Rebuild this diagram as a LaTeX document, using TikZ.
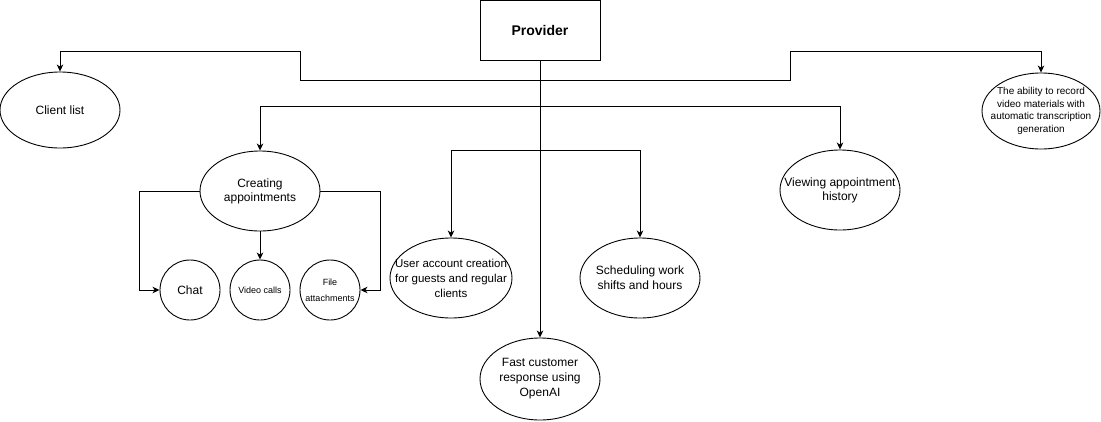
\documentclass[tikz,border=0pt]{standalone}
\usepackage{fontspec}
\setmainfont{Liberation Sans}
\usetikzlibrary{shapes.geometric,arrows.meta}
\begin{document}
\begin{tikzpicture}[x={(1pt,0)},y={(0,-1pt)},
  line width=0.9pt,
  ell/.style={draw,ellipse,inner sep=0pt,minimum width=120pt,minimum height=80pt},
  circ/.style={draw,circle,inner sep=0pt,minimum size=60pt},
  lbl/.style={align=center,inner sep=0pt,font=\fontsize{12}{14}\selectfont},
  arr/.style={-{Stealth[length=7pt,width=6.5pt,inset=2pt]}},
  box/.style={draw,rectangle,inner sep=0pt,minimum width=120pt,minimum height=60pt,font=\bfseries\fontsize{14}{16}\selectfont}
]
\useasboundingbox (0,0) rectangle (1101,421);
% nodes
\node[box] (prov) at (540,30) {Provider};
\node[ell,minimum height=76pt,label={[lbl]center:Client list}] (client) at (60,110) {};
\node[ell,minimum width=118pt,minimum height=76pt,label={[lbl,font=\fontsize{10}{12.5}\selectfont]center:The ability to record\\video materials with\\automatic transcription\\generation}] (rec) at (1041,111) {};
\node[ell,label={[lbl]center:Creating\\appointments}] (creat) at (260,191) {};
\node[ell,label={[lbl]center:Viewing appointment\\history}] (view) at (840,190) {};
\node[ell,minimum width=122pt,label={[lbl,font=\fontsize{11.5}{15}\selectfont]center:User account creation\\for guests and regular\\clients}] (user) at (451,278) {};
\node[ell,label={[lbl,font=\fontsize{12}{15}\selectfont]center:Scheduling work\\shifts and hours}] (sched) at (640,278) {};
\node[ell,minimum height=82pt,label={[lbl,font=\fontsize{12}{15}\selectfont]center:Fast customer\\response using\\OpenAI}] (fast) at (540,379) {};
\node[circ,label={[lbl]center:Chat}] (chat) at (190,290) {};
\node[circ,label={[lbl,font=\fontsize{9}{11}\selectfont]center:Video calls}] (video) at (260,290) {};
\node[circ,label={[lbl,font=\fontsize{9}{16}\selectfont]center:File\\attachments}] (file) at (330,290) {};
% connectors
\draw[arr] (prov.south) |- (300,80) |- (client.north |- 0,51) -- (client.north);
\draw[arr] (prov.south) |- (790,80) |- (rec.north |- 0,51) -- (rec.north);
\draw[arr] (prov.south) |- (creat.north |- 0,106) -- (creat.north);
\draw[arr] (prov.south) |- (view.north |- 0,106) -- (view.north);
\draw[arr] (prov.south) |- (user.north |- 0,150) -- (user.north);
\draw[arr] (prov.south) |- (sched.north |- 0,150) -- (sched.north);
\draw[arr] (prov.south) -- (fast.north);
\draw[arr] (creat.west) -- ++(-60,0) |- (chat.west);
\draw[arr] (creat.south) -- (video.north);
\draw[arr] (creat.east) -- ++(60,0) |- (file.east);
\end{tikzpicture}
\end{document}
